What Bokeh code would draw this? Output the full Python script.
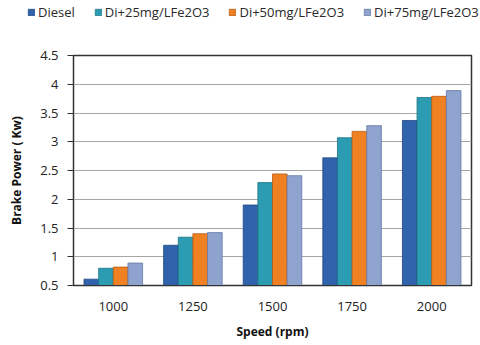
from bokeh.plotting import figure
from bokeh.layouts import column
from bokeh.models import ColumnDataSource, FactorRange, Legend, LegendItem
from bokeh.transform import dodge
from bokeh.embed import file_html
from bokeh.resources import INLINE

speeds = ["1000", "1250", "1500", "1750", "2000"]
diesel = [0.61, 1.20, 1.90, 2.72, 3.37]
di25 = [0.80, 1.34, 2.29, 3.07, 3.77]
di50 = [0.82, 1.40, 2.44, 3.18, 3.79]
di75 = [0.89, 1.42, 2.41, 3.28, 3.89]
series_names = ["Diesel", "Di+25mg/LFe2O3", "Di+50mg/LFe2O3", "Di+75mg/LFe2O3"]
y_ticks = [0.5, 1, 1.5, 2, 2.5, 3, 3.5, 4, 4.5]

source = ColumnDataSource(dict(speed=speeds, diesel=diesel, di25=di25, di50=di50, di75=di75))

cols = ["diesel", "di25", "di50", "di75"]
fills = ["#2f63ab", "#2b9cb2", "#ef8123", "#8fa3cf"]
lines = ["#1f4680", "#1c7384", "#b55c12", "#667aa6"]
offs = [-0.276, -0.092, 0.092, 0.276]

# legend strip: same bars, drawn outside its visible y range, only the legend shows
lf = figure(width=480, height=24, output_backend="svg", toolbar_location=None,
            x_range=FactorRange(*speeds), y_range=(10, 11), min_border=0,
            x_axis_location=None, y_axis_location=None)
lf.frame_align = False
lf.grid.grid_line_color = None
lf.outline_line_color = None
lrs = []
for c, f, l in zip(cols, fills, lines):
    lrs.append(lf.vbar(x="speed", top=c, bottom=0.5, width=0.1, source=source,
                       fill_color=f, line_color=l, line_width=0.8))
legend = Legend(items=[LegendItem(label=n, renderers=[r]) for n, r in zip(series_names, lrs)],
                orientation="horizontal", location=(27, 3),
                label_text_font="Open Sans", label_text_font_size="13px", label_text_color="#2a2a2a",
                glyph_width=8, glyph_height=8, label_standoff=3, spacing=19,
                padding=0, margin=0, border_line_color=None, background_fill_alpha=0)
lf.add_layout(legend, "center")

p = figure(x_range=FactorRange(*speeds, range_padding=0), y_range=(0.5, 4.5),
           width=480, height=321, output_backend="svg", toolbar_location=None,
           min_border_left=73, min_border_right=9, min_border_top=31, min_border_bottom=60)
p.frame_align = False

for c, f, l, o in zip(cols, fills, lines, offs):
    p.vbar(x=dodge("speed", o, range=p.x_range), top=c, bottom=0.5, width=0.184,
           source=source, fill_color=f, line_color=l, line_width=0.8)

p.outline_line_color = "#333333"
p.outline_line_width = 1.5
p.xgrid.grid_line_color = None
p.ygrid.grid_line_color = "#a6a6a6"
p.ygrid.grid_line_width = 1.2
p.yaxis.ticker = y_ticks
p.yaxis.major_label_overrides = {0.5: "0.5", 1: "1", 1.5: "1.5", 2: "2", 2.5: "2.5", 3: "3", 3.5: "3.5", 4: "4", 4.5: "4.5"}

for ax in (p.xaxis, p.yaxis):
    ax.axis_line_color = "#333333"
    ax.major_label_text_font = "Open Sans"
    ax.major_label_text_font_size = "13px"
    ax.major_label_text_color = "#222222"
    ax.axis_label_text_font = "Open Sans"
    ax.axis_label_text_font_size = "12px"
    ax.axis_label_text_font_style = "bold"
    ax.axis_label_text_color = "#111111"
    ax.minor_tick_line_color = None

p.yaxis.major_tick_out = 6
p.yaxis.major_tick_in = 0
p.yaxis.major_tick_line_color = "#333333"
p.yaxis.major_label_standoff = 9
p.yaxis.axis_label = "Brake Power ( Kw)"
p.yaxis.axis_label_standoff = 12
p.xaxis.major_tick_line_color = None
p.xaxis.major_label_standoff = 10
p.xaxis.axis_label = "Speed (rpm)"
p.xaxis.axis_label_standoff = 9

layout = column(lf, p, spacing=0)
open("out.html", "w").write(file_html(layout, INLINE))
